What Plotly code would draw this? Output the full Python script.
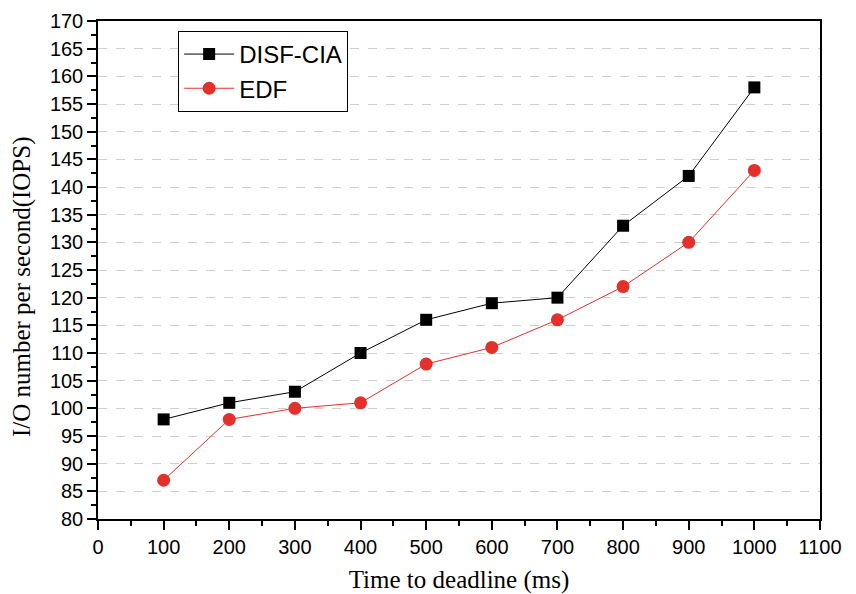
import plotly.graph_objects as go

x_vals = [100, 200, 300, 400, 500, 600, 700, 800, 900, 1000]
disf_cia = [98, 101, 103, 110, 116, 119, 120, 133, 142, 158]
edf = [87, 98, 100, 101, 108, 111, 116, 122, 130, 143]

fig = go.Figure()
fig.add_trace(go.Scatter(x=x_vals, y=disf_cia, mode="lines+markers", name="DISF-CIA",
                         line=dict(color="black", width=1),
                         marker=dict(symbol="square", size=12, color="black")))
fig.add_trace(go.Scatter(x=x_vals, y=edf, mode="lines+markers", name="EDF",
                         line=dict(color="#E3302B", width=1),
                         marker=dict(symbol="circle", size=13, color="#E3302B")))

tickfont = dict(family="Liberation Sans, Arial", size=20, color="black")
xtitlefont = dict(family="Liberation Serif, Times New Roman", size=25, color="black")
ytitlefont = dict(family="Liberation Serif, Times New Roman", size=25, color="black")

fig.update_layout(
    width=856, height=594,
    margin=dict(l=98, r=36, t=21, b=75),
    plot_bgcolor="white", paper_bgcolor="white",
    showlegend=True,
    legend=dict(x=0.111, y=0.98, xanchor="left", yanchor="top",
                bordercolor="black", borderwidth=1, bgcolor="white",
                font=dict(family="Liberation Sans, Arial", size=24, color="black"),
                tracegroupgap=0, itemwidth=50),
    xaxis=dict(range=[0, 1100], dtick=100, tick0=0, automargin=False,
               showgrid=False, zeroline=False,
               showline=True, linecolor="black", linewidth=1.5, mirror=True,
               ticks="outside", ticklen=9, tickwidth=1.5, tickcolor="black",
               minor=dict(dtick=50, tick0=0, ticks="outside", ticklen=5, tickwidth=1.5, tickcolor="black"),
               tickfont=tickfont,
               title=dict(text="Time to deadline (ms)", font=xtitlefont, standoff=16)),
    yaxis=dict(range=[80, 170], dtick=5, tick0=80, automargin=False,
               showgrid=True, gridcolor="#cfcfcf", griddash="dash", gridwidth=1,
               zeroline=False,
               showline=True, linecolor="black", linewidth=1.5, mirror=True,
               ticks="outside", ticklen=9, tickwidth=1.5, tickcolor="black",
               minor=dict(dtick=2.5, tick0=80, ticks="outside", ticklen=5, tickwidth=1.5, tickcolor="black"),
               tickfont=tickfont),
    xaxis2=dict(range=[0, 1100], dtick=100, tick0=0, overlaying="x", side="top",
                showgrid=False, zeroline=False, showticklabels=False,
                ticks="inside", ticklen=8, tickwidth=1.5, tickcolor="black",
                minor=dict(dtick=50, tick0=0, ticks="inside", ticklen=5, tickwidth=1.5, tickcolor="black")),
    yaxis2=dict(range=[80, 170], dtick=5, tick0=80, overlaying="y", side="right",
                showgrid=False, zeroline=False, showticklabels=False,
                ticks="inside", ticklen=8, tickwidth=1.5, tickcolor="black",
                minor=dict(dtick=2.5, tick0=80, ticks="inside", ticklen=5, tickwidth=1.5, tickcolor="black")),
    annotations=[dict(text="I/O number per second(IOPS)", textangle=-90,
                      xref="paper", yref="paper", x=-0.105, y=0.466,
                      xanchor="center", yanchor="middle", showarrow=False,
                      font=ytitlefont)],
)

fig.write_html("out.html")
